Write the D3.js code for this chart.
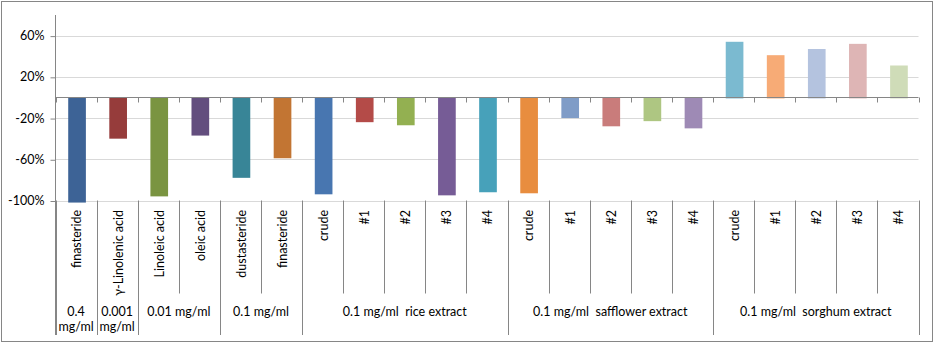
<!DOCTYPE html>
<html>
<head>
<meta charset="utf-8">
<script src="https://cdn.jsdelivr.net/npm/d3@7"></script>
<style>
  html, body { margin: 0; padding: 0; background: #fff; }
  svg { display: block; }
  text { font-family: Lato, "Open Sans", sans-serif; fill: #000; }
</style>
</head>
<body>
<svg id="chart" width="935" height="344"></svg>
<script>
// ---- data ----
const categories = [
  "finasteride", "γ-Linolenic acid", "Linoleic acid", "oleic acid", "dustasteride", "finasteride",
  "crude", "#1", "#2", "#3", "#4",
  "crude", "#1", "#2", "#3", "#4",
  "crude", "#1", "#2", "#3", "#4"
];
const values = [
  -102, -40, -96, -37, -78, -59,
  -94, -24, -27, -95, -92,
  -93, -20, -28, -23, -30,
  54, 41, 47, 52, 31
];
const barColors = [
  "#3D6396", "#963C3B", "#7A9441", "#634E7E", "#388597", "#C27533",
  "#4876B0", "#B44B48", "#93B051", "#765C96", "#47A1BA",
  "#E88D3F", "#7F9CC7", "#C97C7B", "#AEC682", "#9E8AB5",
  "#7BBAD0", "#F7AB76", "#B4C3DF", "#DEB5B5", "#CFDCB8"
];
const groupLabels = [
  ["0.4", "mg/ml"], ["0.001", "mg/ml"], ["0.01 mg/ml"], ["0.1 mg/ml"],
  ["0.1 mg/ml  rice extract"], ["0.1 mg/ml  safflower extract"], ["0.1 mg/ml  sorghum extract"]
];
const groupSizes = [1, 1, 2, 2, 5, 5, 5];
const yTicks = [-100, -60, -20, 20, 60];

// ---- layout ----
const svg = d3.select("#chart");
const plotLeft = 55.5, plotRight = 918.5, plotTop = 15, plotBottom = 200.5;
const ids = categories.map((c, i) => i);
const x = d3.scaleBand().domain(ids).range([plotLeft, plotRight]).paddingInner(0.57).paddingOuter(0.285);
const step = x.step();
const bandStart = i => plotLeft + i * step;
const y = d3.scaleLinear().domain([-100, 80]).range([plotBottom, plotTop]);

// outer border
svg.append("rect").attr("x", 1.5).attr("y", 1.5).attr("width", 931).attr("height", 340)
  .attr("fill", "#fff").attr("stroke", "#868686").attr("stroke-width", 1);

// gridlines
svg.append("g").selectAll("line").data(yTicks).join("line")
  .attr("x1", plotLeft).attr("x2", plotRight)
  .attr("y1", d => Math.round(y(d)) + 0.5).attr("y2", d => Math.round(y(d)) + 0.5)
  .attr("stroke", "#D9D9D9").attr("stroke-width", 1);

// bars
svg.append("g").selectAll("rect").data(values).join("rect")
  .attr("x", (d, i) => x(i) + 1)
  .attr("width", x.bandwidth())
  .attr("y", d => d >= 0 ? y(d) : y(0))
  .attr("height", d => Math.abs(y(d) - y(0)) + (d >= 0 ? 1 : 0))
  .attr("fill", (d, i) => barColors[i]);

// y axis
const yAxis = d3.axisLeft(y).tickValues(yTicks).tickFormat(d => d + "%").tickSize(5).tickPadding(6);
const yg = svg.append("g").attr("transform", `translate(${plotLeft},0)`).call(yAxis);
yg.select(".domain").remove();
yg.selectAll(".tick line").attr("stroke", "#868686").attr("transform", "translate(0,0.5)");
yg.selectAll(".tick text").style("font-size", "12.5px").style("font-family", "Lato, sans-serif").attr("fill", "#000");
svg.append("line").attr("x1", plotLeft).attr("x2", plotLeft).attr("y1", plotTop).attr("y2", 335)
  .attr("stroke", "#868686").attr("stroke-width", 1);

// horizontal axis at zero
const y0 = Math.round(y(0)) + 0.5;
svg.append("line").attr("x1", plotLeft).attr("x2", plotRight).attr("y1", y0).attr("y2", y0)
  .attr("stroke", "#868686").attr("stroke-width", 1.2);
svg.append("g").selectAll("line").data(d3.range(categories.length + 1)).join("line")
  .attr("x1", i => Math.round(bandStart(i)) + 0.5).attr("x2", i => Math.round(bandStart(i)) + 0.5)
  .attr("y1", y0).attr("y2", y0 + 5)
  .attr("stroke", "#868686");

// category dividers below the plot
const groupBounds = [0];
groupSizes.forEach(s => groupBounds.push(groupBounds[groupBounds.length - 1] + s));
svg.append("g").selectAll("line").data(d3.range(categories.length + 1)).join("line")
  .attr("x1", i => Math.round(bandStart(i)) + 0.5).attr("x2", i => Math.round(bandStart(i)) + 0.5)
  .attr("y1", plotBottom).attr("y2", i => groupBounds.includes(i) ? 335 : 293.5)
  .attr("stroke", "#868686");

// category labels (rotated)
svg.append("g").selectAll("text").data(categories).join("text")
  .attr("transform", (d, i) => `translate(${bandStart(i) + step / 2 + 1},210) rotate(-90)`)
  .attr("text-anchor", "end")
  .attr("dy", "0.35em")
  .style("font-size", "12.5px")
  .style("white-space", "pre")
  .text(d => d);

// group labels
const gl = svg.append("g").selectAll("text").data(groupLabels).join("text")
  .attr("text-anchor", "middle")
  .style("font-size", "12.5px")
  .style("white-space", "pre")
  .attr("x", (d, i) => (bandStart(groupBounds[i]) + bandStart(groupBounds[i + 1])) / 2)
  .attr("y", 312)
  .attr("dy", "0.35em");
gl.each(function(lines) {
  const t = d3.select(this);
  const cx = t.attr("x");
  lines.forEach((ln, k) => {
    t.append("tspan").attr("x", cx).attr("dy", k === 0 ? "0.35em" : "1.2em").text(ln);
  });
});
gl.attr("dy", null);
</script>
</body>
</html>
